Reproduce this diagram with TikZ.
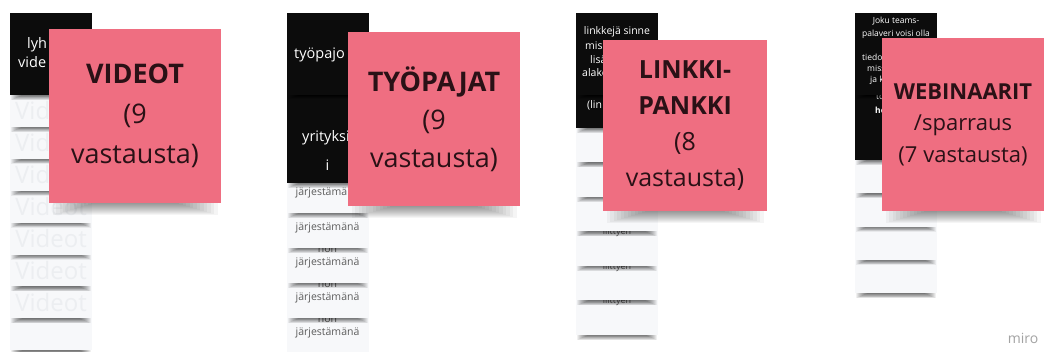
\documentclass[tikz,border=0pt]{standalone}
\usepackage{fontspec}
\setmainfont{Open Sans}

\definecolor{stickypink}{HTML}{EF6E81}
\definecolor{stickyink}{HTML}{2A1116}
\definecolor{noteblack}{HTML}{0C0C0C}
\definecolor{notewhite}{HTML}{F7F8FA}
\definecolor{notefaint}{HTML}{ECEEF1}
\definecolor{notegray}{HTML}{5C5C5C}
\definecolor{mirogray}{HTML}{A3A3A3}

% soft shadow under a note: left, right, bottom, depth, inset, opacity
\newcommand\notedrop[6]{%
  \foreach \i in {1,...,12}
    \fill[black, opacity=#6] ({#1+#5*\i},{#3+1}) rectangle ({#2-#5*\i},{#3-#4*(13-\i)/12});
}

\tikzset{
  sticky/.style={fill=stickypink, text=stickyink, align=center, inner sep=0pt},
  darknote/.style={fill=noteblack, minimum width=82pt, inner sep=0pt},
  lightnote/.style={fill=notewhite, minimum width=82pt, inner sep=0pt},
  darktext/.style={text=white, align=center, inner sep=0pt},
  graytext/.style={text=notegray, inner sep=0pt},
}

\begin{document}
\begin{tikzpicture}[x=1pt,y=1pt]
\fill[white] (0,0) rectangle (1045,-352);
\useasboundingbox (0,0) rectangle (1045,-352);

% videot
\foreach \k in {7,...,0} {
  \notedrop{10}{92}{-127-31.9*\k}{5}{1}{0.06}
  \node[lightnote, minimum height=32pt] (vid\k) at (51,{-111-31.9*\k}) {};
  \ifnum\k<3
    \node[text=notefaint, anchor=west, inner sep=0pt, font=\fontsize{24}{28}\selectfont]
      (vidtxt\k) at (15,{-111-31.9*\k}) {Vid};
  \else\ifnum\k<7
    \node[text=notefaint, inner sep=0pt, font=\fontsize{24}{28}\selectfont]
      (vidtxt\k) at (51,{-111-31.9*\k}) {Videot};
  \fi\fi
}
\notedrop{10}{92}{-95}{5}{1}{0.06}
\node[darknote, minimum height=82pt] (vidtop) at (51,-54) {};
\node[darktext, anchor=west, font=\fontsize{14.5}{17}\selectfont] (vidlyh) at (27,-45) {lyh};
\node[darktext, anchor=west, font=\fontsize{14.5}{17}\selectfont] (vidvide) at (18,-62) {vide};
\notedrop{49}{221}{-203}{12}{3.5}{0.04}
\node[sticky, minimum width=172pt, minimum height=174pt, font=\fontsize{27}{40}\selectfont]
  (videot) at (135,-116) {\textbf{VIDEOT}\\(9\\vastausta)};

% tyopajat
\foreach \k in {4,...,0} {
  \notedrop{286.5}{368.5}{-213-35*\k}{5}{1}{0.06}
  \node[lightnote, minimum height=35pt] (tyo\k) at (327.5,{-195.5-35*\k}) {};
  \ifnum\k=0
    \node[graytext, anchor=west, font=\fontsize{10.5}{13}\selectfont] (tyotxt\k) at (295.5,-193) {järjestämä};
  \else
    \node[graytext, font=\fontsize{10.5}{13}\selectfont] (tyotxt\k) at (327.5,{-193-35*\k}) {järjestämänä};
  \fi
  \ifnum\k>1
    \node[graytext, font=\fontsize{10.5}{13}\selectfont] (tyonon\k) at (327.5,{-180-35*\k}) {non};
  \fi
}
\notedrop{286.5}{368.5}{-183}{5}{1}{0.06}
\node[darknote, minimum height=88pt] (tyomid) at (327.5,-139) {};
\node[darktext, anchor=west, font=\fontsize{14.5}{17}\selectfont] (tyoyri) at (302,-138) {yrityksi};
\node[darktext, font=\fontsize{14.5}{17}\selectfont] (tyoi) at (327.5,-165) {i};
\notedrop{286.5}{368.5}{-95}{4}{1}{0.05}
\node[darknote, minimum height=82pt] (tyotop) at (327.5,-54) {};
\node[darktext, anchor=west, font=\fontsize{14.5}{17}\selectfont] (tyopaj) at (294,-55) {työpajo};
\notedrop{348}{520}{-206}{12}{3.5}{0.04}
\node[sticky, minimum width=172pt, minimum height=174pt, font=\fontsize{27}{38}\selectfont]
  (tyopajat) at (434,-119) {\textbf{TYÖPAJAT}\\(9\\vastausta)};

% linkkipankki
\foreach \k in {5,...,0} {
  \notedrop{576}{658}{-162.5-34.5*\k}{5}{1}{0.06}
  \node[lightnote, minimum height=34.5pt] (lin\k) at (617,{-145.25-34.5*\k}) {};
  \ifnum\k>2
    \node[graytext, font=\fontsize{9}{11}\selectfont] (lintxt\k) at (617,{-129-34.5*\k}) {liittyen};
  \fi
}
\notedrop{576}{658}{-128}{5}{1}{0.06}
\node[darknote, minimum height=33pt] (linmid) at (617,-111.5) {};
\node[darktext, anchor=west, font=\fontsize{10.5}{13}\selectfont] (linlin) at (587,-105) {(lin};
\notedrop{576}{658}{-95}{4}{1}{0.05}
\node[darknote, minimum height=82pt] (lintop) at (617,-54) {};
\node[darktext, font=\fontsize{10.5}{13}\selectfont] (linsinne) at (617,-32) {linkkejä sinne};
\node[darktext, anchor=west, font=\fontsize{10.5}{13}\selectfont] (linmis) at (585,-46) {mis};
\node[darktext, anchor=west, font=\fontsize{10.5}{13}\selectfont] (linlisa) at (590,-60) {lisä};
\node[darktext, anchor=west, font=\fontsize{10.5}{13}\selectfont] (linala) at (582,-73) {alako};
\notedrop{603}{767}{-211}{12}{3.5}{0.04}
\node[sticky, minimum width=164pt, minimum height=171pt, font=\fontsize{25}{36}\selectfont]
  (linkki) at (685,-125.5) {\textbf{LINKKI-}\\\textbf{PANKKI}\\(8\\vastausta)};

% webinaarit
\foreach \k in {3,...,0} {
  \notedrop{855}{937}{-193.3-33.3*\k}{5}{1}{0.06}
  \node[lightnote, minimum height=33.3pt] (web\k) at (896,{-176.65-33.3*\k}) {};
}
\notedrop{855}{937}{-160}{5}{1}{0.06}
\node[darknote, minimum height=65pt] (webmid) at (896,-127.5) {};
\node[darktext, anchor=west, font=\fontsize{8.5}{10}\selectfont] (webto) at (876,-97) {to};
\node[darktext, anchor=west, font=\fontsize{8.5}{10}\selectfont] (webhe) at (875,-110) {\textbf{he}};
\notedrop{855}{937}{-95}{4}{1}{0.05}
\node[darknote, minimum height=82pt] (webtop) at (896,-54) {};
\node[darktext, font=\fontsize{8.5}{12.5}\selectfont] (webjoku) at (896,-28)
  {Joku teams-\\palaveri voisi olla};
\node[darktext, anchor=west, font=\fontsize{8.5}{10}\selectfont] (webtie) at (862,-57) {tiedo};
\node[darktext, anchor=west, font=\fontsize{8.5}{10}\selectfont] (webmiss) at (867,-68) {miss};
\node[darktext, anchor=west, font=\fontsize{8.5}{10}\selectfont] (webja) at (870,-80) {ja k};
\notedrop{882}{1044}{-211}{12}{3.5}{0.04}
\node[sticky, minimum width=162pt, minimum height=173pt, font=\fontsize{22}{31.5}\selectfont]
  (webinaarit) at (963,-124.5) {\textbf{WEBINAARIT}\\/sparraus\\(7 vastausta)};

\node[text=mirogray, inner sep=0pt, font=\fontsize{14}{16}\selectfont] (miro) at (1023,-338) {miro};
\end{tikzpicture}
\end{document}
